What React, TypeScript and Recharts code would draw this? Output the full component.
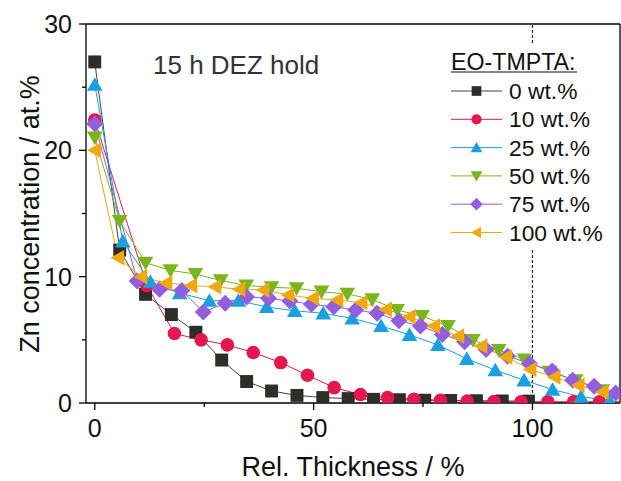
import React from "react";
import { LineChart, Line, XAxis, YAxis, ReferenceLine } from "recharts";

// axis ticks
const xTicks = [0, 25, 50, 75, 100];
const xLabels = [0, 50, 100];
const yTicks = [0, 5, 10, 15, 20, 25, 30];
const yLabels = [0, 10, 20, 30];

// 0 wt.%
const x0 = [0, 5.7, 11.6, 17.5, 23.1, 29.0, 34.7, 40.4, 46.2, 52.1, 57.9, 63.7, 69.6, 75.4, 81.3, 87.2, 93.1, 99.1];
const y0 = [27.0, 12.1, 8.6, 7.0, 5.6, 3.4, 1.7, 0.95, 0.6, 0.43, 0.35, 0.29, 0.26, 0.22, 0.2, 0.18, 0.16, 0.15];
// 10 wt.%
const x10 = [0, 11.9, 18.2, 24.3, 30.3, 36.2, 42.5, 48.6, 54.7, 60.7, 66.9, 72.9, 79.0, 85.1, 91.2, 97.4, 103.5, 109.4, 115.3, 121.4];
const y10 = [22.4, 9.3, 5.5, 5.0, 4.6, 4.0, 3.2, 2.2, 1.22, 0.67, 0.43, 0.29, 0.21, 0.15, 0.12, 0.1, 0.1, 0.1, 0.1, 0.1];
// 25 wt.%
const x25 = [0, 6.4, 12.7, 19.4, 26.2, 32.8, 39.3, 45.7, 52.2, 58.8, 65.4, 71.9, 78.4, 85.0, 91.5, 98.1, 104.6, 111.1, 117.6];
const y25 = [25.2, 12.8, 9.6, 8.7, 8.1, 8.1, 7.6, 7.3, 7.1, 6.7, 6.1, 5.4, 4.6, 3.5, 2.6, 1.8, 1.06, 0.5, 0.2];
// 50 wt.%
const x50 = [0, 5.7, 11.6, 17.3, 23.0, 28.8, 34.6, 40.4, 46.1, 51.8, 57.7, 63.4, 69.1, 74.8, 80.7, 86.4, 92.3, 98.2, 103.9, 109.9, 116.0, 121.8];
const y50 = [21.0, 14.4, 11.1, 10.5, 10.2, 9.7, 9.3, 9.16, 9.08, 8.81, 8.63, 8.2, 7.36, 6.88, 6.09, 4.98, 4.18, 3.44, 2.46, 1.8, 1.0, 0.4];
// 75 wt.%
const x75 = [0, 9.7, 14.8, 19.9, 24.8, 29.8, 34.7, 39.7, 44.6, 49.5, 54.6, 59.6, 64.5, 69.5, 74.4, 79.4, 84.5, 89.4, 94.3, 99.3, 104.5, 109.2, 114.1, 119.0];
const y75 = [22.1, 9.66, 9.0, 8.9, 7.2, 7.9, 8.4, 8.29, 8.07, 7.81, 7.62, 7.36, 7.1, 6.51, 6.09, 5.43, 4.84, 4.24, 3.71, 3.13, 2.54, 1.8, 1.33, 0.79];
// 100 wt.%
const x100 = [0, 5.3, 10.6, 16.3, 22.0, 27.5, 33.0, 38.5, 44.2, 49.8, 55.4, 60.9, 66.5, 71.9, 77.5, 83.0, 88.3, 94.0, 99.5, 105.0, 110.5, 116.0, 121.5];
const y100 = [20.0, 11.5, 10.0, 9.5, 9.3, 9.2, 9.0, 8.94, 8.55, 8.29, 8.15, 7.94, 7.41, 6.83, 6.09, 5.29, 4.5, 3.65, 2.65, 2.06, 1.4, 0.87, 0.4];

const seriesNames = ["0 wt.%", "10 wt.%", "25 wt.%", "50 wt.%", "75 wt.%", "100 wt.%"];

const FONT = "'Liberation Sans', Arial, sans-serif";
const W = 621;
const H = 481;

type Shape = "square" | "circle" | "up" | "down" | "diamond" | "left";

const zip = (xs: number[], ys: number[]) => xs.map((x, i) => ({ x, y: ys[i] }));

const series = [
  { name: seriesNames[0], data: zip(x0, y0), color: "#2e2d27", line: "#444444", shape: "square" as Shape },
  { name: seriesNames[1], data: zip(x10, y10), color: "#e5174f", line: "#e5174f", shape: "circle" as Shape },
  { name: seriesNames[2], data: zip(x25, y25), color: "#1a9fe0", line: "#1a9fe0", shape: "up" as Shape },
  { name: seriesNames[3], data: zip(x50, y50), color: "#7ab51d", line: "#7ab51d", shape: "down" as Shape },
  { name: seriesNames[4], data: zip(x75, y75), color: "#935ede", line: "#935ede", shape: "diamond" as Shape },
  { name: seriesNames[5], data: zip(x100, y100), color: "#efa90f", line: "#efa90f", shape: "left" as Shape },
];

const Marker = ({ shape, cx, cy, color, k = 1 }: { shape: Shape; cx: number; cy: number; color: string; k?: number }) => {
  const s = 6.8 * k;
  switch (shape) {
    case "square":
      return <rect x={cx - s * 0.95} y={cy - s * 0.95} width={s * 1.9} height={s * 1.9} fill={color} />;
    case "circle":
      return <circle cx={cx} cy={cy} r={s} fill={color} />;
    case "up":
      return <polygon points={`${cx},${cy - s * 1.1} ${cx + s * 1.15},${cy + s * 0.9} ${cx - s * 1.15},${cy + s * 0.9}`} fill={color} />;
    case "down":
      return <polygon points={`${cx},${cy + s * 1.1} ${cx + s * 1.15},${cy - s * 0.9} ${cx - s * 1.15},${cy - s * 0.9}`} fill={color} />;
    case "diamond":
      return <polygon points={`${cx},${cy - s * 1.25} ${cx + s * 1.25},${cy} ${cx},${cy + s * 1.25} ${cx - s * 1.25},${cy}`} fill={color} />;
    default:
      return <polygon points={`${cx - s * 1.1},${cy} ${cx + s * 0.9},${cy - s * 1.15} ${cx + s * 0.9},${cy + s * 1.15}`} fill={color} />;
  }
};

const XTick = (props: any) => {
  const { x, y, payload } = props;
  const major = xLabels.includes(payload.value);
  return (
    <g>
      <line x1={x} y1={y} x2={x} y2={y + (major ? 7 : 4)} stroke="#000" strokeWidth={1.3} />
      {major && (
        <text x={x} y={y + 34} textAnchor="middle" fontSize={25} fontFamily={FONT} fill="#111">
          {payload.value}
        </text>
      )}
    </g>
  );
};

const YTick = (props: any) => {
  const { x, y, payload } = props;
  const major = yLabels.includes(payload.value);
  return (
    <g>
      <line x1={x} y1={y} x2={x - (major ? 7 : 4)} y2={y} stroke="#000" strokeWidth={1.3} />
      {major && (
        <text x={x - 14} y={y + 9} textAnchor="end" fontSize={25} fontFamily={FONT} fill="#111">
          {payload.value}
        </text>
      )}
    </g>
  );
};

const Overlay = () => {
  const rowY0 = 91;
  const step = 28.3;
  return (
    <svg width={W} height={H} style={{ position: "absolute", left: 0, top: 0, pointerEvents: "none" }}>
      <text x={153} y={74} fontSize={26} fontFamily={FONT} fill="#333">
        15 h DEZ hold
      </text>
      <rect x={446} y={45} width={140} height={205} fill="#fff" />
      <text x={451} y={70} fontSize={23.2} fontFamily={FONT} fill="#111">
        EO-TMPTA:
      </text>
      <line x1={451} y1={72} x2={577} y2={72} stroke="#111" strokeWidth={1.2} />
      {series.map((s, i) => {
        const cy = rowY0 + i * step;
        return (
          <g key={s.name}>
            <line x1={451} y1={cy} x2={502} y2={cy} stroke={s.line} strokeWidth={1} />
            <Marker shape={s.shape} cx={476.5} cy={cy} color={s.color} k={0.75} />
            <text x={509} y={cy + 8} fontSize={22.8} fontFamily={FONT} fill="#111">
              {s.name}
            </text>
          </g>
        );
      })}
      <text x={353} y={476} textAnchor="middle" fontSize={27} fontFamily={FONT} fill="#111">
        Rel. Thickness / %
      </text>
      <text
        x={0}
        y={0}
        transform="translate(39,214) rotate(-90)"
        textAnchor="middle"
        fontSize={27}
        fontFamily={FONT}
        fill="#111"
      >
        Zn concentration / at.%
      </text>
    </svg>
  );
};

export default function App() {
  return (
    <div style={{ position: "absolute", left: 0, top: 0, width: W, height: H, background: "#fff" }}>
      <LineChart width={W} height={H} margin={{ top: 24, right: 1, bottom: 0, left: 0 }}>
        <XAxis
          type="number"
          dataKey="x"
          domain={[-2, 120]}
          allowDataOverflow
          ticks={xTicks}
          interval={0}
          tickSize={0}
          tickMargin={0}
          tickLine={false}
          tick={<XTick />}
          height={78}
          axisLine={{ stroke: "#000", strokeWidth: 1.3 }}
        />
        <YAxis
          type="number"
          dataKey="y"
          domain={[0, 30]}
          allowDataOverflow
          ticks={yTicks}
          interval={0}
          tickSize={0}
          tickMargin={0}
          tickLine={false}
          tick={<YTick />}
          width={86}
          axisLine={{ stroke: "#000", strokeWidth: 1.3 }}
        />
        <ReferenceLine x={100} stroke="#222" strokeDasharray="3 2" strokeWidth={1.2} />
        <ReferenceLine y={30} stroke="#000" strokeWidth={1.3} />
        <ReferenceLine x={120} stroke="#000" strokeWidth={1.3} />
        {series.map((s) => (
          <Line
            key={s.name}
            data={s.data}
            dataKey="y"
            name={s.name}
            type="linear"
            stroke={s.line}
            strokeWidth={1}
            isAnimationActive={false}
            activeDot={false}
            dot={(p: any) => (
              <Marker key={`${s.name}-${p.index}`} shape={s.shape} cx={p.cx} cy={p.cy} color={s.color} />
            )}
          />
        ))}
      </LineChart>
      <Overlay />
    </div>
  );
}
